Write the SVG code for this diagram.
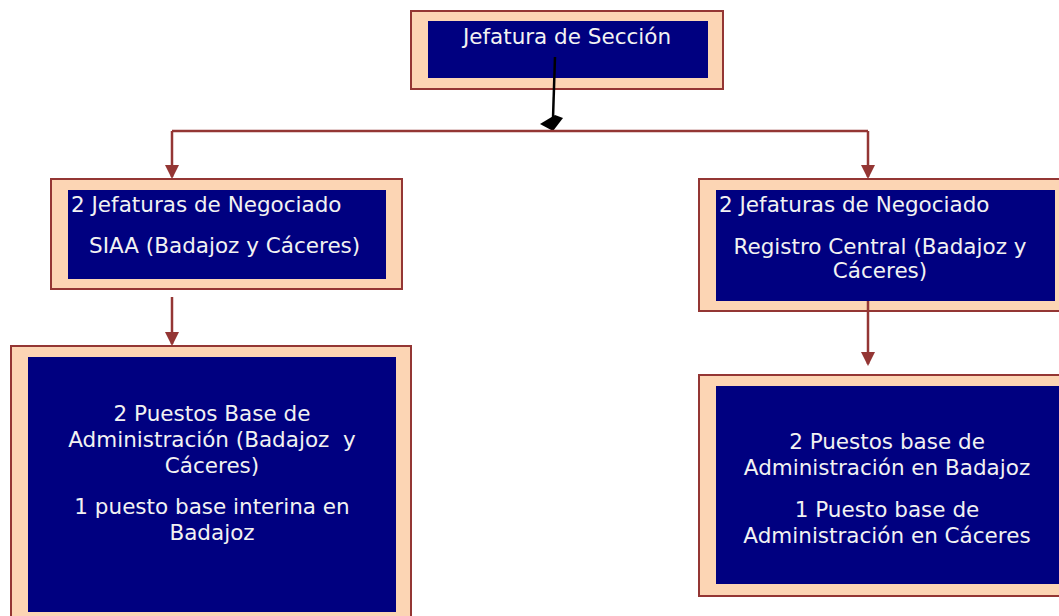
<svg xmlns="http://www.w3.org/2000/svg" width="1059" height="616" viewBox="0 0 1059 616">
<style>
.outer{fill:#fcd5b4;stroke:#943634;stroke-width:2}
.inner{fill:#000080}
.t{font-family:"DejaVu Sans","Verdana",sans-serif;font-size:21.5px;fill:#f2f2f2}
.c{text-anchor:middle}
.conn{fill:none;stroke:#943634;stroke-width:2.5}
</style>
<defs>
<marker id="ar" markerWidth="14" markerHeight="14" refX="12" refY="7" orient="auto" markerUnits="userSpaceOnUse">
<path d="M0,0 L14,7 L0,14 Z" fill="#943634"/>
</marker>
</defs>
<rect width="1059" height="616" fill="#ffffff"/>
<g id="n-jefatura">
<rect class="outer" x="411" y="11" width="312" height="78"/>
<rect class="inner" x="428" y="21" width="280" height="57"/>
<text class="t c" x="567" y="44">Jefatura de Sección</text>
</g>
<g id="n-siaa">
<rect class="outer" x="51" y="179" width="351" height="110"/>
<rect class="inner" x="68" y="190" width="318" height="89"/>
<text class="t" x="71" y="212">2 Jefaturas de Negociado</text>
<text class="t" x="89" y="253">SIAA (Badajoz y Cáceres)</text>
</g>
<g id="n-registro">
<rect class="outer" x="699" y="179" width="370" height="132"/>
<rect class="inner" x="716" y="190" width="339" height="111"/>
<text class="t" x="719" y="212">2 Jefaturas de Negociado</text>
<text class="t c" x="880" y="254">Registro Central (Badajoz y</text>
<text class="t c" x="880" y="278">Cáceres)</text>
</g>
<g id="n-puestos-siaa">
<rect class="outer" x="11" y="346" width="400" height="280"/>
<rect class="inner" x="28" y="357" width="368" height="255"/>
<text class="t c" x="212" y="421">2 Puestos Base de</text>
<text class="t c" x="212" y="447" xml:space="preserve">Administración (Badajoz  y</text>
<text class="t c" x="212" y="473">Cáceres)</text>
<text class="t c" x="212" y="514">1 puesto base interina en</text>
<text class="t c" x="212" y="540">Badajoz</text>
</g>
<g id="n-puestos-registro">
<rect class="outer" x="699" y="375" width="370" height="221"/>
<rect class="inner" x="716" y="386" width="343" height="198"/>
<text class="t c" x="887" y="449">2 Puestos base de</text>
<text class="t c" x="887" y="475">Administración en Badajoz</text>
<text class="t c" x="887" y="517">1 Puesto base de</text>
<text class="t c" x="887" y="543">Administración en Cáceres</text>
</g>
<g id="connectors">
<line x1="555" y1="57" x2="553" y2="118" stroke="#000" stroke-width="2.5"/>
<polygon points="540,124 555,115 563,118 553,131" fill="#000"/>
<path class="conn" d="M172,131 H868"/>
<path class="conn" d="M172,131 V177" marker-end="url(#ar)"/>
<path class="conn" d="M868,131 V177" marker-end="url(#ar)"/>
<line class="conn" x1="172" y1="297" x2="172" y2="344" marker-end="url(#ar)"/>
<line class="conn" x1="868" y1="301" x2="868" y2="364" marker-end="url(#ar)"/>
</g>
</svg>
